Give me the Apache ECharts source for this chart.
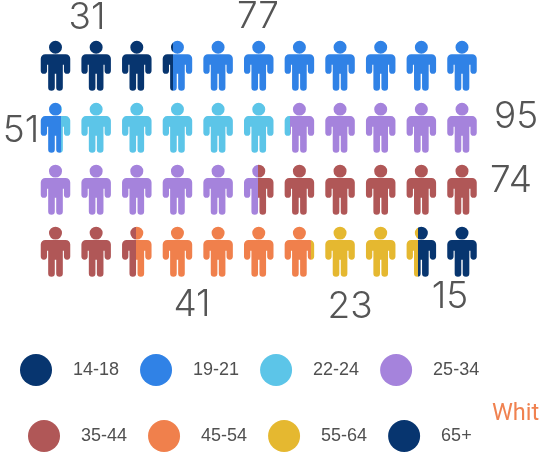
<!DOCTYPE html>
<html><head><meta charset="utf-8">
<style>html,body{margin:0;padding:0;background:#fff}#c{width:539px;height:452px}</style>
<script src="https://cdn.jsdelivr.net/npm/echarts@6/dist/echarts.min.js"></script>
</head><body><div id="c"></div>
<script>
const groups = ['14-18','19-21','22-24','25-34','35-44','45-54','55-64','65+'];
const values = [31,77,51,95,74,41,23,15];
const colors = ['#07356f','#3082e6','#5cc5e8','#a583dc','#b05757','#f0804c','#e5b830','#07356f'];
const iconColumns = 11;
const iconRows = 4;

const personPath = 'path://M4.5 13.3H24.5A4.5 4.5 0 0 1 29 17.8V29.9A3.1 3.1 0 0 1 22.8 29.9V24H21.7V46.75A3.25 3.25 0 0 1 15.2 46.75V33H13.8V46.75A3.25 3.25 0 0 1 7.3 46.75V24H6.2V29.9A3.1 3.1 0 0 1 0 29.9V17.8A4.5 4.5 0 0 1 4.5 13.3ZM14.5 0A6.4 6.4 0 1 1 14.5 12.8A6.4 6.4 0 1 1 14.5 0Z';

function rgba(hex, a){
  const n = parseInt(hex.slice(1),16);
  return 'rgba('+(n>>16)+','+((n>>8)&255)+','+(n&255)+','+a+')';
}
const totalIcons = iconColumns*iconRows;
const totalValue = values.reduce((a,b)=>a+b,0);
let cum = 0;
const series = groups.map((name,gi)=>{
  const start = cum/totalValue*totalIcons;
  cum += values[gi];
  const end = cum/totalValue*totalIcons;
  const data = [];
  for(let k=Math.floor(start+1e-9); k<Math.ceil(end-1e-9); k++){
    const f = Math.max(start-k,0), g = Math.min(end-k,1);
    const c = colors[gi], t = rgba(c,0);
    data.push({
      value:[k%iconColumns, Math.floor(k/iconColumns)],
      itemStyle:{color:(f<=0&&g>=1)?c:{type:'linear',x:0,y:0,x2:1,y2:0,colorStops:[
        {offset:0,color:f>0?t:c},{offset:f,color:f>0?t:c},{offset:f,color:c},
        {offset:g,color:c},{offset:g,color:g<1?t:c},{offset:1,color:g<1?t:c}]}}
    });
  }
  return {name,type:'scatter',data,symbol:personPath,symbolSize:[29.5,50],
    symbolKeepAspect:false,itemStyle:{color:colors[gi],opacity:1},
    emphasis:{disabled:true},silent:true,animation:false};
});

const labelSpots = [[87,18],[258,17],[21,131],[516,117],[511,181],[192,305],[350,307],[450,297]];
const texts = values.map((v,i)=>({type:'text',x:labelSpots[i][0],y:labelSpots[i][1],
  style:{text:String(v),fill:'#555',font:'300 37px Inter',textAlign:'center',textVerticalAlign:'middle'}}));
texts.push({type:'text',x:492,y:414.5,style:{text:'Whit',fill:'#f08250',font:'400 23.5px Roboto',textAlign:'left',textVerticalAlign:'middle'}});

const legendBase = {orient:'horizontal',padding:0,itemWidth:32,itemHeight:32,itemGap:21,icon:'circle',selectedMode:false,
  textStyle:{fontFamily:'Liberation Sans',fontSize:18,color:'#505050',padding:[0,0,0,16]}};

const chart = echarts.init(document.getElementById('c'),null,{renderer:'canvas'});
chart.setOption({
  animation:false,backgroundColor:'#fff',
  grid:{left:55.5,right:77,top:65.85,bottom:200.3},
  xAxis:{type:'value',min:0,max:iconColumns-1,show:false},
  yAxis:{type:'value',min:0,max:iconRows-1,inverse:true,show:false},
  tooltip:{show:false},
  legend:[
    Object.assign({},legendBase,{left:20,top:354,data:groups.slice(0,4)}),
    Object.assign({},legendBase,{left:28,top:420,data:groups.slice(4)})
  ],
  series,
  graphic:texts
});
</script></body></html>
